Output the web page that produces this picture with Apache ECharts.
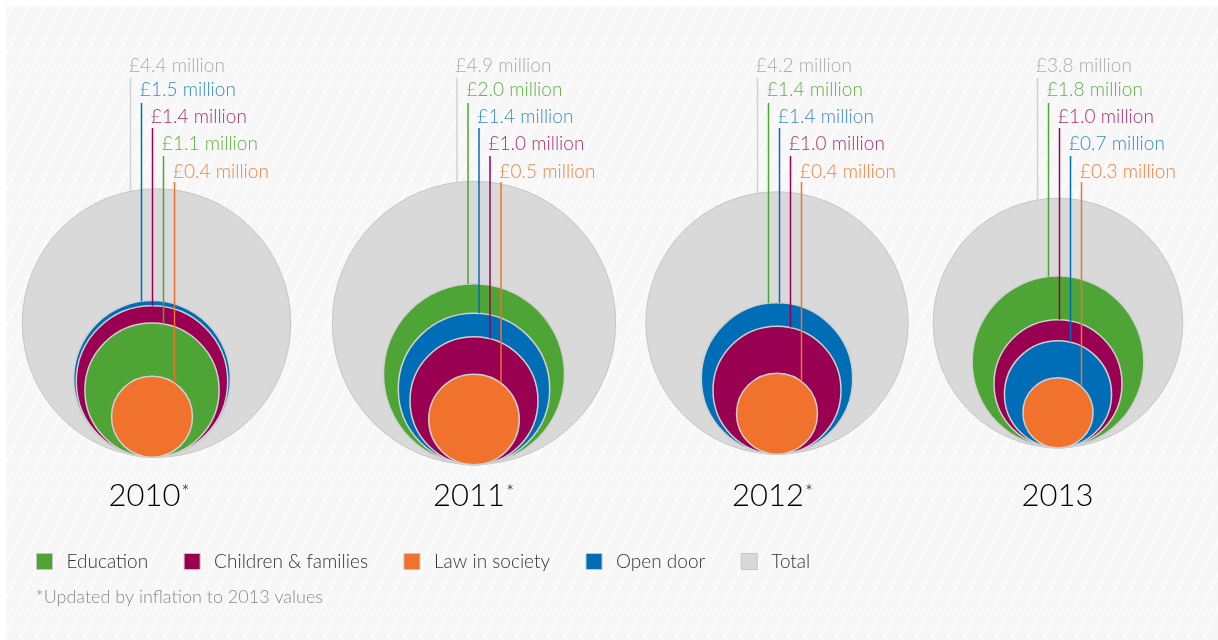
<!DOCTYPE html>
<html>
<head>
<meta charset="utf-8">
<title>Funding by programme</title>
<script src="https://cdn.jsdelivr.net/npm/echarts@6/dist/echarts.min.js"></script>
<style>
  html, body { margin: 0; padding: 0; background: #ffffff; }
  #chart { width: 1218px; height: 640px; }
</style>
</head>
<body>
<div id="chart"></div>
<script>
// Funding per programme, £ million
const years = ['2010', '2011', '2012', '2013'];
const inflationAdjusted = [true, true, true, false];
const education = [1.1, 2.0, 1.4, 1.8];
const childrenFamilies = [1.4, 1.0, 1.0, 1.0];
const lawInSociety = [0.4, 0.5, 0.4, 0.3];
const openDoor = [1.5, 1.4, 1.4, 0.7];
const total = [4.4, 4.9, 4.2, 3.8];
const footnote = '*Updated by inflation to 2013 values';

const FONT = 'Lato, "Open Sans", sans-serif';

// Programmes in legend order
const programmes = [
  { name: 'Education', values: education, color: '#4ea434', label: '#62b046' },
  { name: 'Children & families', values: childrenFamilies, color: '#990052', label: '#a8316f' },
  { name: 'Law in society', values: lawInSociety, color: '#f0722d', label: '#f28240' },
  { name: 'Open door', values: openDoor, color: '#006eb6', label: '#3b8bc9' }
];
const totalStyle = { name: 'Total', color: '#d9d9d9', label: '#ababab' };

// Layout (x axis is in pixels, y axis in sqrt(£m) units so circle area tracks value)
const groupX = [156.5, 474, 777, 1058];
const innerShift = [-4.5, 0, 0, 0];
const leaderX = [130, 456.5, 757, 1037];
const leaderStep = 11;
const rowMid = [66, 90, 117, 144, 172];
const lineTop = [78, 103, 128, 156, 182];
const yearLabelX = [149, 473.5, 772.5, 1057.5];
const yearLabelY = 496;
const PX_PER_UNIT = 64;
const centerY = 323 / PX_PER_UNIT;

// rank of each programme within a year (0 = largest)
function rankOf(p, g) {
  const order = programmes.map((pr, i) => i)
    .sort((a, b) => (programmes[b].values[g] - programmes[a].values[g]) || (a - b));
  return order.indexOf(p);
}

function fmt(v) { return '£' + v.toFixed(1) + ' million'; }

function leader(lx, top, c, rp, color) {
  const dx = lx - c[0];
  const bottom = c[1] - Math.sqrt(Math.max(rp * rp - dx * dx, 0));
  return {
    type: 'line', z2: 100, silent: true,
    shape: { x1: lx + 0.5, y1: top, x2: lx + 0.5, y2: bottom },
    style: { stroke: color, lineWidth: 1.5, opacity: 1 }
  };
}

function label(lx, y, text, color) {
  return {
    type: 'text', z2: 100, silent: true,
    style: {
      x: lx - 1, y: y, text: text, fill: color,
      font: '300 19px ' + FONT, align: 'left', verticalAlign: 'middle'
    }
  };
}

function programmeSeries(p) {
  const pr = programmes[p];
  return {
    name: pr.name,
    type: 'custom',
    coordinateSystem: 'cartesian2d',
    itemStyle: { color: pr.color },
    data: years.map((y, g) => [g, pr.values[g]]),
    renderItem: function (params, api) {
      const g = api.value(0);
      const v = api.value(1);
      const R = Math.sqrt(total[g]);
      const r = Math.sqrt(v);
      const c = api.coord([groupX[g] + innerShift[g], centerY + R - r]);
      const rp = api.size([0, r])[1];
      const rank = rankOf(p, g);
      const row = rank + 1;
      const lx = leaderX[g] + row * leaderStep;
      return {
        type: 'group',
        children: [
          {
            type: 'circle', z2: 10 + rank,
            shape: { cx: c[0], cy: c[1], r: rp },
            style: { fill: pr.color, stroke: '#d0d0d0', lineWidth: 1.5 }
          },
          leader(lx, lineTop[row], c, rp, pr.color),
          label(lx, rowMid[row], fmt(v), pr.label)
        ]
      };
    }
  };
}

const totalSeries = {
  name: totalStyle.name,
  type: 'custom',
  coordinateSystem: 'cartesian2d',
  itemStyle: { color: totalStyle.color },
  data: years.map((y, g) => [g, total[g]]),
  renderItem: function (params, api) {
    const g = api.value(0);
    const v = api.value(1);
    const c = api.coord([groupX[g], centerY]);
    const rp = api.size([0, Math.sqrt(v)])[1];
    const lx = leaderX[g];
    return {
      type: 'group',
      children: [
        {
          type: 'circle', z2: 5,
          shape: { cx: c[0], cy: c[1], r: rp },
          style: { fill: totalStyle.color, stroke: '#c6c6c6', lineWidth: 1 }
        },
        leader(lx, lineTop[0], c, rp, '#d2d2d2'),
        label(lx, rowMid[0], fmt(v), totalStyle.label),
        {
          type: 'text', z2: 100, silent: true,
          style: {
            x: yearLabelX[g], y: yearLabelY,
            text: '{y|' + years[g] + '}' + (inflationAdjusted[g] ? '{s|*}' : ''),
            align: 'center', verticalAlign: 'middle',
            rich: {
              y: { fontFamily: FONT, fontWeight: 300, fontSize: 31, color: '#707070' },
              s: { fontFamily: FONT, fontWeight: 300, fontSize: 19, color: '#a0a0a0', padding: [0, 0, 6, 1] }
            }
          }
        }
      ]
    };
  }
};

// Hatched backdrop tile
const tile = document.createElement('canvas');
tile.width = 16; tile.height = 34;
const tctx = tile.getContext('2d');
tctx.fillStyle = '#f7f7f7';
tctx.fillRect(0, 0, 16, 34);
tctx.strokeStyle = '#ffffff';
tctx.lineWidth = 1.3;
[-16, 0, 16].forEach(function (off) {
  tctx.beginPath();
  tctx.moveTo(off, 34);
  tctx.lineTo(off + 16, 0);
  tctx.stroke();
});

const chart = echarts.init(document.getElementById('chart'), null, { renderer: 'canvas' });
chart.setOption({
  animation: false,
  graphic: [{
    type: 'rect', z: -10, silent: true,
    shape: { x: 6, y: 6, width: 1212, height: 634 },
    style: { fill: { image: tile, repeat: 'repeat' } }
  }],
  title: {
    text: footnote, left: 31, top: 583,
    textStyle: { fontFamily: FONT, fontWeight: 300, fontSize: 18, color: '#8a8a8a' }
  },
  legend: {
    left: 31, top: 547,
    icon: 'rect', itemWidth: 16, itemHeight: 16, itemGap: 35.5,
    selectedMode: false,
    itemStyle: { borderColor: '#c4c4c4', borderWidth: 1 },
    textStyle: { fontFamily: FONT, fontWeight: 300, fontSize: 19, color: '#333333', padding: [0, 0, 0, 9] },
    data: programmes.map(p => p.name).concat([totalStyle.name])
  },
  grid: { left: 0, right: 0, top: 0, bottom: 0 },
  xAxis: { type: 'value', min: 0, max: 1218, show: false },
  yAxis: { type: 'value', min: 0, max: 10, inverse: true, show: false },
  series: [totalSeries].concat(programmes.map((p, i) => programmeSeries(i)))
});
</script>
</body>
</html>
